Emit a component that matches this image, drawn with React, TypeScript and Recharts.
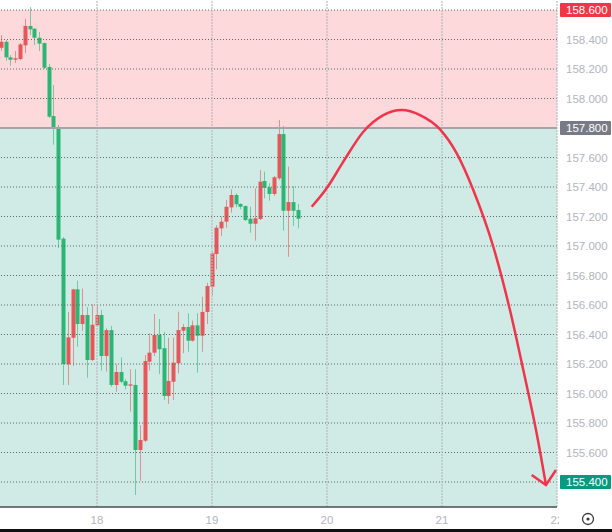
import { ComposedChart, Bar, Line, XAxis, YAxis, ReferenceArea, ReferenceLine } from 'recharts';

// hourly candles, first one at day 17 04:00
const startDay = 17;
const startHour = 4;

const opens = [
  158.344, 158.385, 158.279, 158.263, 158.268, 158.361, 158.492, 158.473, 158.412, 158.376,
  158.214, 157.881, 157.807, 157.05, 156.198, 156.378, 156.706, 156.471, 156.532, 156.227,
  156.463, 156.532, 156.254, 156.43, 156.058, 156.146, 156.083, 156.053, 156.058, 155.617,
  155.68, 156.216, 156.277, 156.397, 156.307, 155.983, 156.08, 156.205, 156.426, 156.451,
  156.358, 156.462, 156.392, 156.553, 156.724, 156.946, 157.12, 157.165, 157.262, 157.346,
  157.285, 157.271, 157.185, 157.151, 157.183, 157.441, 157.398, 157.353, 157.459, 157.759,
  157.239, 157.298, 157.244,
];
const highs = [
  158.43, 158.397, 158.295, 158.322, 158.376, 158.539, 158.62, 158.478, 158.451, 158.38,
  158.234, 158.092, 157.82, 157.06, 156.553, 156.71, 156.765, 156.711, 156.586, 156.605,
  156.605, 156.566, 156.442, 156.458, 156.198, 156.245, 156.098, 156.164, 156.164, 155.786,
  156.261, 156.408, 156.539, 156.505, 156.417, 156.378, 156.378, 156.555, 156.471, 156.544,
  156.494, 156.544, 156.656, 156.751, 156.961, 157.142, 157.199, 157.312, 157.384, 157.357,
  157.29, 157.275, 157.266, 157.391, 157.515, 157.504, 157.425, 157.475, 157.854, 157.814,
  157.538, 157.407, 157.285,
];
const lows = [
  158.324, 158.256, 158.222, 158.241, 158.26, 158.308, 158.43, 158.363, 158.322, 158.2,
  157.868, 157.687, 156.986, 156.058, 156.058, 156.189, 156.317, 156.426, 156.107, 156.22,
  156.453, 156.155, 156.148, 156.046, 156.012, 156.069, 156.029, 155.877, 155.312, 155.409,
  155.67, 156.155, 156.254, 156.132, 155.956, 155.93, 155.956, 156.137, 156.273, 156.283,
  156.351, 156.141, 156.283, 156.471, 156.668, 156.842, 157.068, 157.124, 157.226, 157.262,
  157.249, 157.17, 157.09, 157.036, 157.176, 157.323, 157.307, 157.339, 157.447, 157.104,
  156.927, 157.136, 157.12,
];
const closes = [
  158.385, 158.279, 158.263, 158.273, 158.367, 158.492, 158.469, 158.412, 158.372, 158.209,
  157.877, 157.802, 157.043, 156.2, 156.381, 156.706, 156.471, 156.532, 156.227, 156.466,
  156.532, 156.254, 156.43, 156.058, 156.146, 156.08, 156.053, 156.062, 155.617, 155.685,
  156.22, 156.277, 156.397, 156.3, 155.983, 156.085, 156.209, 156.43, 156.451, 156.358,
  156.462, 156.392, 156.553, 156.729, 156.95, 157.124, 157.165, 157.266, 157.346, 157.283,
  157.266, 157.176, 157.151, 157.188, 157.436, 157.395, 157.353, 157.466, 157.759, 157.239,
  157.298, 157.239, 157.185,
];

// hand-drawn forecast arrow
const arrowDays = [
  19.867, 19.997, 20.142, 20.316, 20.49, 20.65, 20.809, 20.983, 21.128, 21.272,
  21.446, 21.591, 21.707, 21.823, 21.904,
];
const arrowPrices = [
  157.266, 157.391, 157.572, 157.775, 157.888, 157.922, 157.888, 157.791, 157.628, 157.38,
  156.995, 156.566, 156.159, 155.73, 155.38,
];
const headDays = [21.78, 21.904, 21.991];
const headPrices = [155.448, 155.38, 155.481];

const dayTicks = [18, 19, 20, 21, 22];
const priceTicks = [
  155.4, 155.6, 155.8, 156.0, 156.2, 156.4, 156.6, 156.8, 157.0, 157.2,
  157.4, 157.6, 157.8, 158.0, 158.2, 158.4, 158.6,
];
const zoneTop = 158.6;
const zoneSplit = 157.8;
const xDomain: [number, number] = [17.1565, 22];
const yDomain: [number, number] = [155.2305, 158.668];

const UP = '#e6575a';
const DOWN = '#2bb673';
const ARROW = '#f2334a';
const boxed: Record<string, string> = {
  '158.600': '#f23645',
  '157.800': '#787b86',
  '155.400': '#089981',
};

const candles = opens.map((open, i) => ({
  t: startDay + (startHour + i) / 24,
  open,
  high: highs[i],
  low: lows[i],
  close: closes[i],
}));
const arrow = arrowDays.map((t, i) => ({ t, p: arrowPrices[i] }));
const head = headDays.map((t, i) => ({ t, p: headPrices[i] }));

function Candle(props: any) {
  const { x, y, width, height, payload } = props;
  const { open, close, high, low } = payload;
  const color = close >= open ? UP : DOWN;
  const top = Math.min(y, y + height);
  const h = Math.abs(height);
  const span = high - low || 1e-6;
  const py = (v: number) => top + ((high - v) / span) * h;
  const cx = Math.round(x + width / 2) + 0.5;
  const bTop = py(Math.max(open, close));
  const bBot = py(Math.min(open, close));
  return (
    <g>
      <line x1={cx} x2={cx} y1={top} y2={top + h} stroke={color} strokeOpacity={0.6} />
      <rect x={cx - 2} y={bTop} width={4} height={Math.max(1, bBot - bTop)} fill={color} />
    </g>
  );
}

function PriceTick(props: any) {
  const { x, y, payload } = props;
  const label = Number(payload.value).toFixed(3);
  const bg = boxed[label];
  return (
    <g>
      {bg && <rect x={x + 3} y={y - 7} width={51} height={14} fill={bg} rx={1} />}
      <text x={x + 9} y={y + 4} fontSize={11.5} fill={bg ? '#ffffff' : '#b2b5be'}>
        {label}
      </text>
    </g>
  );
}

function DayTick(props: any) {
  const { x, y, payload } = props;
  return (
    <g>
      <defs>
        <clipPath id={`dclip${payload.value}`}>
          <rect x={x - 20} y={y} width={Math.min(40, 559 - (x - 20))} height={20} />
        </clipPath>
      </defs>
      <text
        x={x}
        y={y + 9}
        textAnchor="middle"
        fontSize={11.5}
        fill="#b2b5be"
        clipPath={`url(#dclip${payload.value})`}
      >
        {payload.value}
      </text>
    </g>
  );
}

export default function App() {
  return (
    <div style={{ position: 'absolute', left: 0, top: 0, width: 612, height: 532, background: '#fff' }}>
      <ComposedChart
        width={612}
        height={529}
        data={candles}
        margin={{ top: 0, right: 0, bottom: 0, left: 0 }}
        style={{ fontFamily: '"Liberation Sans", Arial, sans-serif' }}
      >
        <ReferenceArea y1={zoneSplit} y2={zoneTop} fill="#fdd9dc" fillOpacity={1} stroke="none" ifOverflow="hidden" />
        <ReferenceArea y1={yDomain[0]} y2={zoneSplit} fill="#d0ebe5" fillOpacity={1} stroke="none" ifOverflow="hidden" />
        {priceTicks.filter((v) => v !== zoneSplit).map((v) => (
          <ReferenceLine key={`h${v}`} y={v} stroke="#5d6966" strokeDasharray="1 2" />
        ))}
        {dayTicks.map((d) => (
          <ReferenceLine key={`v${d}`} x={d} stroke="#b8bbbe" strokeWidth={1.2} strokeDasharray="2 1" ifOverflow="visible" />
        ))}
        <ReferenceLine y={zoneSplit} stroke="#a4a5a9" strokeWidth={2} />
        <XAxis
          dataKey="t"
          type="number"
          domain={xDomain}
          ticks={dayTicks}
          allowDataOverflow
          height={22}
          tickLine={false}
          axisLine={{ stroke: '#4a4c52', strokeWidth: 1.5 }}
          tick={<DayTick />}
          interval={0}
        />
        <YAxis
          orientation="right"
          type="number"
          domain={yDomain}
          ticks={priceTicks}
          allowDataOverflow
          width={55}
          axisLine={false}
          tickLine={false}
          tickSize={0}
          tickMargin={0}
          tick={<PriceTick />}
          interval={0}
        />
        <Bar
          dataKey={(d: any) => [d.low, d.high]}
          barSize={4}
          shape={<Candle />}
          isAnimationActive={false}
        />
        <Line
          data={arrow}
          dataKey="p"
          type="monotone"
          stroke={ARROW}
          strokeWidth={2.5}
          dot={false}
          activeDot={false}
          isAnimationActive={false}
        />
        <Line
          data={head}
          dataKey="p"
          type="linear"
          stroke={ARROW}
          strokeWidth={2.5}
          dot={false}
          activeDot={false}
          isAnimationActive={false}
        />
      </ComposedChart>
      <svg width={20} height={20} style={{ position: 'absolute', left: 578, top: 509 }}>
        <circle cx={10} cy={10} r={5.5} fill="none" stroke="#3c3c3c" strokeWidth={1.3} />
        <circle cx={10} cy={10} r={1.6} fill="#3c3c3c" />
      </svg>
      <div style={{ position: 'absolute', left: 0, top: 529, width: 612, height: 3, background: '#111' }} />
    </div>
  );
}
